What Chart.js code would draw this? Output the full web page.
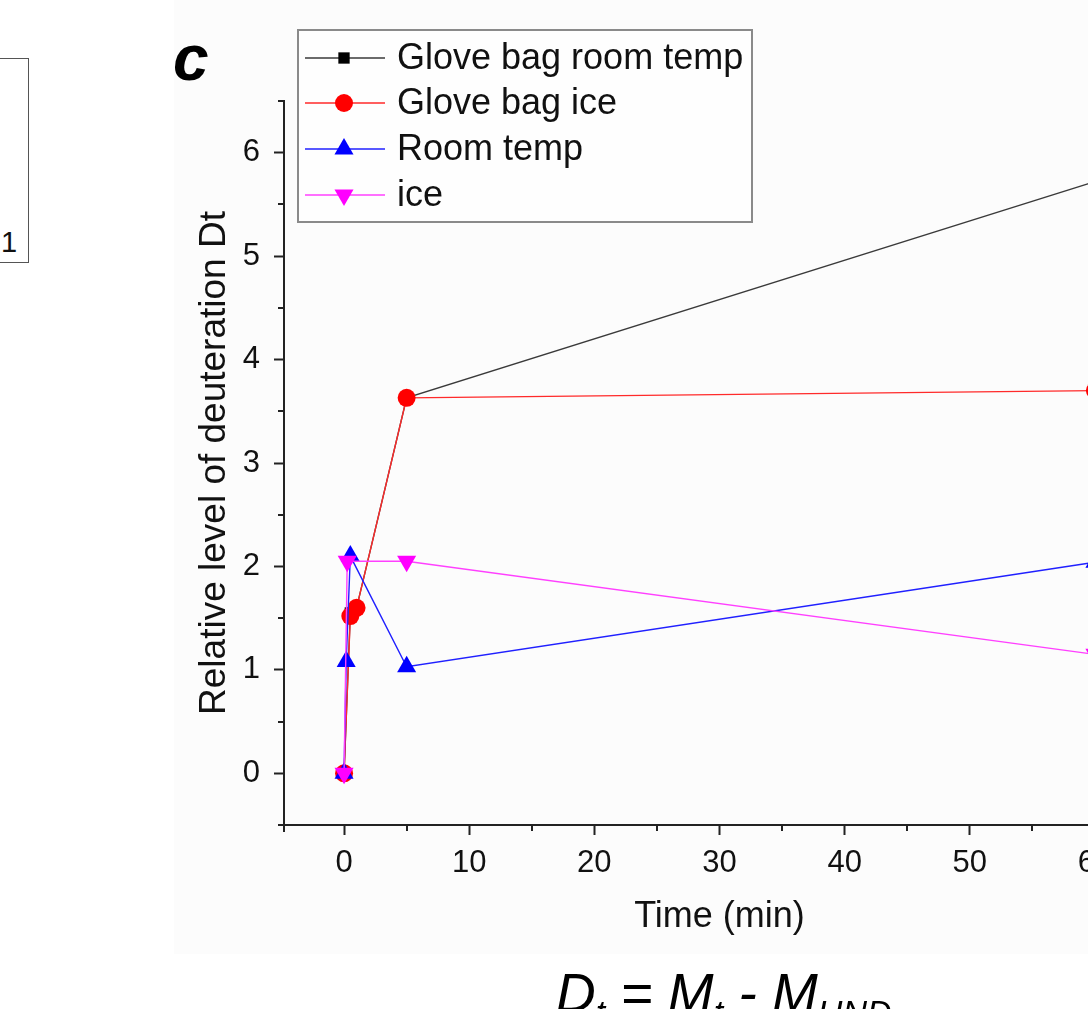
<!DOCTYPE html>
<html>
<head>
<meta charset="utf-8">
<script src="https://cdn.jsdelivr.net/npm/chart.js@4/dist/chart.umd.min.js"></script>
<style>
  html, body { margin:0; padding:0; width:1088px; height:1009px; overflow:hidden; background:#ffffff; }
  body { position:relative; font-family:'Liberation Sans', Arial, sans-serif; }
  #panel { position:absolute; left:174px; top:0; width:914px; height:954px; background:#fcfcfc; }
  #wrap { position:absolute; left:0; top:0; width:1180px; height:1009px; }
  #prevbox { position:absolute; left:-10px; top:58px; width:37px; height:203px; border:1px solid #555; }
  #one { position:absolute; left:1px; top:228px; font-size:29px; line-height:29px; color:#111; }
  #tag { position:absolute; left:173px; top:26px; font:italic bold 64px 'Liberation Sans', Arial, sans-serif; line-height:64px; color:#000; }
  #formula { position:absolute; left:556px; top:966px; font:italic 55px 'Liberation Sans', Arial, sans-serif; line-height:55px; color:#000; white-space:nowrap; }
  #formula .s { font-size:34px; position:relative; top:12px; }
</style>
</head>
<body>
<div id="panel"></div>
<div id="prevbox"></div>
<div id="one">1</div>
<div id="wrap"><canvas id="c" width="1180" height="1009"></canvas></div>
<div id="tag">c</div>
<div id="formula">D<span class="s">t</span> = M<span class="s">t</span> - M<span class="s">UND</span></div>
<script>
// ---- data ----
const seriesNames = ['Glove bag room temp', 'Glove bag ice', 'Room temp', 'ice'];
const gloveBagRoomTime = [0, 0.5, 1, 5, 60];
const gloveBagRoomVals = [0, 1.55, 1.6, 3.63, 5.72];
const gloveBagIceTime  = [0, 0.5, 1, 5, 60];
const gloveBagIceVals  = [0, 1.52, 1.6, 3.63, 3.70];
const roomTempTime     = [0, 0.17, 0.5, 5, 60];
const roomTempVals     = [0, 1.08, 2.1, 1.03, 2.04];
const iceTime          = [0, 0.25, 5, 60];
const iceVals          = [0, 2.05, 2.05, 1.15];
const xTicks      = [0, 10, 20, 30, 40, 50, 60];
const xMinorTicks = [5, 15, 25, 35, 45, 55];
const yTicks      = [0, 1, 2, 3, 4, 5, 6];
const yMinorTicks = [-0.5, 0.5, 1.5, 2.5, 3.5, 4.5, 5.5, 6.5];

const FONT = "'Liberation Sans', Arial, sans-serif";
const pts = (xs, ys) => xs.map((x, i) => ({ x: x, y: ys[i] }));

const styles = [
  { line: '#3a3a3a', fill: '#000000', pointStyle: 'rect',     radius: 8,   rotation: 0,   legendRadius: 8 },
  { line: '#ff2a2a', fill: '#ff0000', pointStyle: 'circle',   radius: 9,   rotation: 0,   legendRadius: 9 },
  { line: '#2020ff', fill: '#0000ff', pointStyle: 'triangle', radius: 11,  rotation: 0,   legendRadius: 11 },
  { line: '#ff40ff', fill: '#ff00ff', pointStyle: 'triangle', radius: 11,  rotation: 180, legendRadius: 11 }
];
const seriesData = [
  pts(gloveBagRoomTime, gloveBagRoomVals),
  pts(gloveBagIceTime, gloveBagIceVals),
  pts(roomTempTime, roomTempVals),
  pts(iceTime, iceVals)
];
const orders = [4, 3, 2, 1];

const datasets = seriesNames.map((name, i) => ({
  label: name,
  data: seriesData[i],
  borderColor: styles[i].line,
  backgroundColor: styles[i].fill,
  borderWidth: 1.4,
  pointStyle: styles[i].pointStyle,
  pointRadius: styles[i].radius,
  pointRotation: styles[i].rotation,
  pointBackgroundColor: styles[i].fill,
  pointBorderColor: styles[i].fill,
  pointBorderWidth: 0,
  tension: 0,
  fill: false,
  order: orders[i]
}));

// minor ticks and axis overhangs drawn with the scales' own pixel mapping
const minorTickPlugin = {
  id: 'minorTicks',
  afterDraw(chart) {
    const ctx = chart.ctx;
    const xs = chart.scales.x, ys = chart.scales.y;
    ctx.save();
    ctx.strokeStyle = '#222';
    ctx.lineWidth = 2;
    ctx.beginPath();
    xMinorTicks.forEach(v => {
      const px = Math.round(xs.getPixelForValue(v));
      ctx.moveTo(px, ys.bottom); ctx.lineTo(px, ys.bottom + 6);
    });
    yMinorTicks.forEach(v => {
      const py = Math.round(ys.getPixelForValue(v));
      ctx.moveTo(xs.left, py); ctx.lineTo(xs.left - 6, py);
    });
    // small overhang of the axes at the origin corner
    ctx.moveTo(xs.left, ys.bottom); ctx.lineTo(xs.left, ys.bottom + 7);
    ctx.moveTo(xs.left, ys.bottom); ctx.lineTo(xs.left - 4, ys.bottom);
    ctx.stroke();
    ctx.restore();
  }
};

// boxed legend in the Origin style
const boxLegendPlugin = {
  id: 'boxLegend',
  afterDraw(chart) {
    const ctx = chart.ctx;
    const bx = 298, by = 30, bw = 454, bh = 192;
    ctx.save();
    ctx.fillStyle = '#fefefe';
    ctx.fillRect(bx, by, bw, bh);
    ctx.strokeStyle = '#8a8a8a';
    ctx.lineWidth = 2;
    ctx.strokeRect(bx, by, bw, bh);
    const rows = [58, 103, 149, 195];
    chart.data.datasets.forEach((ds, i) => {
      const y = rows[i];
      ctx.strokeStyle = ds.borderColor;
      ctx.lineWidth = 1.4;
      ctx.beginPath();
      ctx.moveTo(305, y); ctx.lineTo(385, y);
      ctx.stroke();
      ctx.fillStyle = ds.pointBackgroundColor;
      ctx.strokeStyle = ds.pointBackgroundColor;
      Chart.helpers.drawPoint(ctx, {
        pointStyle: ds.pointStyle,
        rotation: ds.pointRotation,
        radius: styles[i].legendRadius,
        borderWidth: 0
      }, 344, y);
      ctx.fillStyle = '#111';
      ctx.font = '36px ' + FONT;
      ctx.textBaseline = 'middle';
      ctx.textAlign = 'left';
      ctx.fillText(ds.label, 397, y + 1);
    });
    ctx.restore();
  }
};

new Chart(document.getElementById('c'), {
  type: 'line',
  data: { datasets: datasets },
  plugins: [minorTickPlugin, boxLegendPlugin],
  options: {
    responsive: false,
    animation: false,
    devicePixelRatio: 1,
    layout: { padding: { left: 193, top: 101, right: 25, bottom: 70 } },
    plugins: { legend: { display: false }, tooltip: { enabled: false } },
    scales: {
      x: {
        type: 'linear',
        min: -4.8, max: 64.8,
        afterBuildTicks: s => { s.ticks = xTicks.map(v => ({ value: v })); },
        afterFit: s => { s.height = 114; },
        ticks: { font: { size: 31, family: FONT }, color: '#111', padding: 10, maxRotation: 0, autoSkip: false, callback: v => String(v) },
        grid: { display: true, drawOnChartArea: false, drawTicks: true, tickLength: 10, tickWidth: 2, tickColor: '#222' },
        border: { display: true, color: '#222', width: 2 },
        title: { display: true, text: 'Time (min)', font: { size: 36, family: FONT }, color: '#111', padding: 0 }
      },
      y: {
        type: 'linear',
        min: -0.5, max: 6.5,
        afterBuildTicks: s => { s.ticks = yTicks.map(v => ({ value: v })); },
        afterFit: s => { s.width = 91; },
        ticks: { font: { size: 31, family: FONT }, color: '#111', padding: 14, autoSkip: false, callback: v => String(v) },
        grid: { display: true, drawOnChartArea: false, drawTicks: true, tickLength: 10, tickWidth: 2, tickColor: '#222' },
        border: { display: true, color: '#222', width: 2 },
        title: { display: true, text: 'Relative level of deuteration Dt', font: { size: 37, family: FONT }, color: '#111', padding: 0 }
      }
    }
  }
});
</script>
</body>
</html>
